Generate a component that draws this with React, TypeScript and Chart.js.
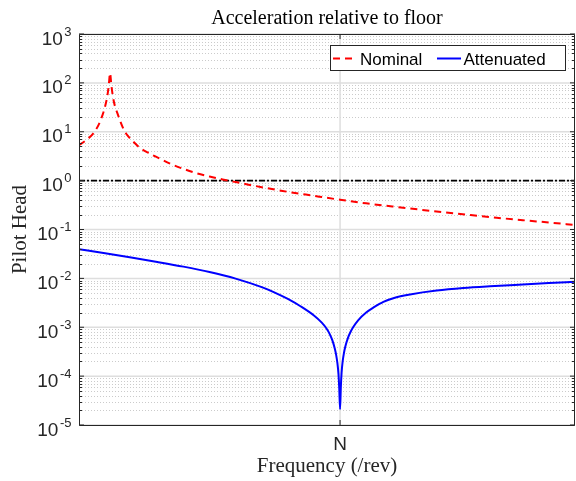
import React, { useEffect, useRef } from 'react';
import { Chart, registerables } from 'chart.js';

Chart.register(...registerables);

// ---- data ----
const nominalX = [0, 0.03, 0.055, 0.075, 0.09, 0.1, 0.108, 0.114, 0.119, 0.124, 0.13, 0.138, 0.147, 0.158, 0.17, 0.185, 0.2, 0.235, 0.27, 0.3, 0.35, 0.4, 0.45, 0.5, 0.55, 0.6, 0.65, 0.7, 0.78, 0.85, 0.92, 1.0, 1.1, 1.2, 1.3, 1.4, 1.5, 1.6, 1.7, 1.8, 1.9];
const nominalY = [5.3, 6.9, 9.3, 13.8, 21.9, 33, 52, 89, 158, 89, 52, 33, 24, 16.4, 11.5, 8.5, 6.92, 4.62, 3.59, 2.99, 2.21, 1.74, 1.42, 1.216, 1.059, 0.933, 0.826, 0.733, 0.614, 0.537, 0.47, 0.406, 0.343, 0.296, 0.257, 0.224, 0.197, 0.174, 0.155, 0.139, 0.124];

const attenX = [0, 0.1, 0.2, 0.3, 0.4, 0.5, 0.6, 0.7, 0.75, 0.8, 0.85, 0.9, 0.93, 0.95, 0.96, 0.97, 0.98, 0.985, 0.99, 0.994, 0.997, 1.0, 1.003, 1.006, 1.01, 1.015, 1.02, 1.03, 1.04, 1.05, 1.07, 1.1, 1.13, 1.166, 1.21, 1.268, 1.37, 1.472, 1.574, 1.7, 1.8, 1.9];
const attenY = [0.0395, 0.0326, 0.0267, 0.0217, 0.0174, 0.0135, 0.00989, 0.00661, 0.00513, 0.0038, 0.00266, 0.00174, 0.00124, 0.000912, 0.000733, 0.00055, 0.000363, 0.000272, 0.000182, 0.00011, 0.000055, 0.000021, 0.00006, 0.00012, 0.0002, 0.0003, 0.0004, 0.0006, 0.0008, 0.001, 0.0014, 0.002, 0.00257, 0.00331, 0.00403, 0.00468, 0.00562, 0.00634, 0.00689, 0.0075, 0.008, 0.0085];

const refX = [0, 1.9];
const refY = [1, 1];

const xMin = 0;
const xMax = 1.9;
const yMin = 1e-5;
const yMax = 1e3;
const yDecades = [-5, -4, -3, -2, -1, 0, 1, 2, 3];
const xTickValues = [1];
const xTickLabels = ['N'];
const seriesNames = ['Nominal', 'Attenuated'];
const titleText = 'Acceleration relative to floor';
const xTitle = 'Frequency (/rev)';
const yTitle = 'Pilot Head';

const AXIS = '#262626';
const SANS = '"Liberation Sans", Arial, sans-serif';
const SERIF = '"Liberation Serif", "Times New Roman", serif';

const toPoints = (xs: number[], ys: number[]) => xs.map((x, i) => ({ x, y: ys[i] }));

const matlabPlugin = {
  id: 'matlabAxes',
  beforeDatasetsDraw(chart: any) {
    const { ctx, chartArea: a, scales } = chart;
    const ys = scales.y;
    const xs = scales.x;
    ctx.save();
    // minor dotted grid
    ctx.strokeStyle = '#cbcbcb';
    ctx.lineWidth = 1;
    ctx.setLineDash([1, 2]);
    for (let k = 0; k < yDecades.length - 1; k++) {
      const e = yDecades[k];
      for (let m = 2; m <= 9; m++) {
        const y = Math.round(ys.getPixelForValue(m * Math.pow(10, e))) + 0.5;
        ctx.beginPath();
        ctx.moveTo(a.left, y);
        ctx.lineTo(a.right, y);
        ctx.stroke();
      }
    }
    ctx.setLineDash([]);
    // major grid
    ctx.strokeStyle = '#dedede';
    ctx.lineWidth = 1.5;
    yDecades.forEach((e) => {
      const y = ys.getPixelForValue(Math.pow(10, e));
      ctx.beginPath();
      ctx.moveTo(a.left, y);
      ctx.lineTo(a.right, y);
      ctx.stroke();
    });
    xTickValues.forEach((v) => {
      const x = xs.getPixelForValue(v);
      ctx.beginPath();
      ctx.moveTo(x, a.top);
      ctx.lineTo(x, a.bottom);
      ctx.stroke();
    });
    ctx.restore();
  },
  afterDatasetsDraw(chart: any) {
    const { ctx, chartArea: a, scales } = chart;
    const ys = scales.y;
    const xs = scales.x;
    ctx.save();
    // box
    ctx.strokeStyle = AXIS;
    ctx.lineWidth = 1;
    ctx.beginPath();
    ctx.rect(a.left + 0.5, a.top + 0.5, a.right - a.left - 1, a.bottom - a.top);
    ctx.stroke();
    // y ticks
    ctx.beginPath();
    for (let k = 0; k < yDecades.length; k++) {
      const e = yDecades[k];
      const y = ys.getPixelForValue(Math.pow(10, e));
      ctx.moveTo(a.left, y); ctx.lineTo(a.left + 5, y);
      ctx.moveTo(a.right, y); ctx.lineTo(a.right - 5, y);
      if (k < yDecades.length - 1) {
        for (let m = 2; m <= 9; m++) {
          const ym = Math.round(ys.getPixelForValue(m * Math.pow(10, e))) + 0.5;
          ctx.moveTo(a.left, ym); ctx.lineTo(a.left + 3, ym);
          ctx.moveTo(a.right, ym); ctx.lineTo(a.right - 3, ym);
        }
      }
    }
    xTickValues.forEach((v) => {
      const x = xs.getPixelForValue(v);
      ctx.moveTo(x, a.bottom); ctx.lineTo(x, a.bottom - 5);
      ctx.moveTo(x, a.top); ctx.lineTo(x, a.top + 5);
    });
    ctx.stroke();

    // y tick labels 10^e
    ctx.fillStyle = AXIS;
    ctx.textBaseline = 'alphabetic';
    yDecades.forEach((e) => {
      const y = ys.getPixelForValue(Math.pow(10, e));
      const expStr = e < 0 ? '-' + Math.abs(e) : String(e);
      ctx.font = `13px ${SANS}`;
      ctx.textAlign = 'right';
      const ew = ctx.measureText(expStr).width;
      const expRight = 71.5;
      ctx.fillText(expStr, expRight, y + 1.5);
      ctx.font = `19px ${SANS}`;
      ctx.fillText('10', expRight - ew - 1.5, y + 10.5);
    });
    // x tick labels
    ctx.font = `19px ${SANS}`;
    ctx.textAlign = 'center';
    xTickValues.forEach((v, i) => {
      ctx.fillText(xTickLabels[i], xs.getPixelForValue(v), 449.5);
    });

    // title & axis labels
    const cx = (a.left + a.right) / 2;
    ctx.fillStyle = '#000000';
    ctx.font = `20px ${SERIF}`;
    ctx.textAlign = 'center';
    ctx.fillText(titleText, cx, 24);
    ctx.fillStyle = AXIS;
    ctx.font = `21px ${SERIF}`;
    ctx.fillText(xTitle, cx, 472);
    ctx.save();
    ctx.translate(25.5, (a.top + a.bottom) / 2);
    ctx.rotate(-Math.PI / 2);
    ctx.fillText(yTitle, 0, 0);
    ctx.restore();

    // legend
    const lx = 330.5, ly = 45.5, lw = 235, lh = 25;
    ctx.fillStyle = '#ffffff';
    ctx.fillRect(lx, ly, lw, lh);
    ctx.strokeStyle = AXIS;
    ctx.lineWidth = 1;
    ctx.strokeRect(lx, ly, lw, lh);
    const my = 58.5;
    ctx.lineWidth = 2;
    ctx.strokeStyle = '#ff0000';
    ctx.setLineDash([7, 5]);
    ctx.beginPath(); ctx.moveTo(333, my); ctx.lineTo(353, my); ctx.stroke();
    ctx.setLineDash([]);
    ctx.strokeStyle = '#0000ff';
    ctx.beginPath(); ctx.moveTo(437, my); ctx.lineTo(461, my); ctx.stroke();
    ctx.fillStyle = '#000000';
    ctx.font = `17px ${SANS}`;
    ctx.textAlign = 'left';
    ctx.fillText(seriesNames[0], 360, 64.5);
    ctx.fillText(seriesNames[1], 463.5, 64.5);
    ctx.restore();
  },
};

export default function App() {
  const ref = useRef<HTMLCanvasElement | null>(null);
  useEffect(() => {
    document.body.style.margin = '0';
    const canvas = ref.current;
    if (!canvas) return;
    const hiddenAxis = {
      ticks: { display: false },
      grid: { display: false, drawTicks: false, tickLength: 0 },
      border: { display: false },
      title: { display: false },
    };
    const chart = new Chart(canvas, {
      type: 'line',
      data: {
        datasets: [
          {
            label: seriesNames[0],
            data: toPoints(nominalX, nominalY),
            borderColor: '#ff0000',
            borderWidth: 2,
            borderDash: [7, 5],
            pointRadius: 0,
            fill: false,
            tension: 0.4,
            cubicInterpolationMode: 'monotone',
          },
          {
            label: seriesNames[1],
            data: toPoints(attenX, attenY),
            borderColor: '#0000ff',
            borderWidth: 2,
            pointRadius: 0,
            fill: false,
            tension: 0.4,
            cubicInterpolationMode: 'monotone',
          },
          {
            label: 'ref',
            data: toPoints(refX, refY),
            borderColor: '#000000',
            borderWidth: 1.8,
            borderDash: [6, 2, 2, 2],
            pointRadius: 0,
            fill: false,
          },
        ],
      } as any,
      options: {
        animation: false,
        responsive: false,
        devicePixelRatio: 1,
        layout: { padding: { left: 79, top: 34, right: 1, bottom: 56 } },
        plugins: { legend: { display: false }, tooltip: { enabled: false }, title: { display: false } },
        scales: {
          x: { type: 'linear', min: xMin, max: xMax, ...hiddenAxis },
          y: { type: 'logarithmic', min: yMin, max: yMax, ...hiddenAxis },
        },
      } as any,
      plugins: [matlabPlugin],
    });
    return () => chart.destroy();
  }, []);
  return (
    <div style={{ position: 'absolute', left: 0, top: 0, width: 576, height: 481, background: '#fff' }}>
      <canvas ref={ref} width={576} height={481} style={{ display: 'block', width: 576, height: 481 }} />
    </div>
  );
}
